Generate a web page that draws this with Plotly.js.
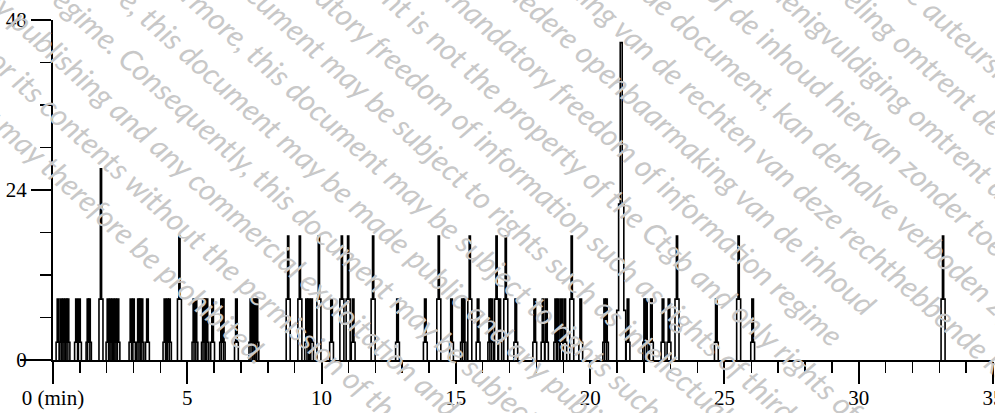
<!DOCTYPE html>
<html><head><meta charset="utf-8">
<script src="https://cdn.plot.ly/plotly-3.0.1.min.js"></script>
<style>html,body{margin:0;padding:0;background:#fff;}#chart{width:995px;height:413px;}</style>
</head><body><div id="chart"></div>
<script>
// Peak retention times (min) and heights
const peakTimes = [0.186,0.298,0.391,0.484,0.558,0.875,0.986,1.303,1.358,1.786,
  2.047,2.140,2.233,2.326,2.419,2.903,2.996,3.182,3.238,3.312,3.517,4.168,4.261,4.336,4.708,
  5.248,5.322,5.601,5.657,5.731,5.943,6.278,6.338,6.829,7.369,7.443,7.518,7.592,8.757,
  9.192,9.442,9.527,9.628,9.900,10.372,10.756,10.990,11.176,11.920,12.828,13.863,14.365,
  14.838,15.247,15.307,15.519,15.828,16.263,16.338,16.516,16.635,16.859,17.231,17.938,
  18.247,18.373,18.720,18.813,18.932,19.055,19.315,19.650,20.543,20.607,21.157,21.410,
  22.032,22.095,22.281,22.713,22.936,23.234,24.700,25.530,26.051,33.141];
const peakHeights = [8.6,8.6,8.6,8.6,8.6,8.6,8.6,8.6,8.6,27.0,
  8.6,8.6,8.6,8.6,8.6,8.6,8.6,8.6,8.6,8.6,8.6,8.6,8.6,8.6,17.5,
  8.6,8.6,8.6,8.6,8.6,8.6,8.6,8.6,8.6,8.6,8.6,8.6,8.6,17.5,
  17.5,8.6,8.6,8.6,17.5,8.6,17.5,17.5,8.6,17.5,8.6,8.6,17.5,
  8.6,8.6,8.6,17.5,8.6,8.6,8.6,17.5,8.6,17.5,8.6,8.6,
  8.6,8.6,8.6,8.6,8.6,8.6,17.5,8.6,8.6,8.6,44.8,8.6,
  8.6,8.6,8.6,8.6,8.6,17.5,8.6,17.5,8.6,17.5];
const xTickVals = [0,5,10,15,20,25,30,35];
const xTickText = ['0 (min)','5','10','15','20','25','30','35'];
const yTickVals = [0,24,48];
const yTickText = ['0','24','48'];

// Watermark of the scanned source page: one diagonal line of text each,
// the x where the line meets the top edge, and either a word in it with its place (px)
// or the place (px) where the line ends
const wmLineX0 = [-132,-66,0,66,132,198,264,330,396,462,528,594,660,726,792,858,924,990];
const wmTexts = [
  'without the permission of the owner may therefore be prohibited.',
  'exploitation of this document or its contents without the permission of the rightful owner may therefore',
  'Consequently, any publishing and any commercial exploitation and use of this document or its contents',
  'of information regime. Consequently, this document may be subject to rights of third parties such as',
  'the Ctgb. Furthermore, this document may be made public and any publication of its contents',
  'Furthermore, this document may be subject to rights such as intellectual property and copyrights',
  'the mandatory regime. This document may be subject to rights such as intellectual property',
  'under the mandatory freedom of information such as rights of third parties and the owner',
  'This document is not the property of the Ctgb and only rights of information required',
  'is made available under the mandatory freedom of information regime',
  'openbaarheid van bestuur. Iedere openbaarmaking van de inhoud',
  'toestemming van de rechten van deze rechthebbende kan derhalve verboden zijn',
  'zonder van de document, kan derhalve verboden zijn zonder toestemming van de',
  'vermenigvuldiging of de inhoud hiervan zonder toestemming van de rechthebbende',
  'Iedere vermenigvuldiging omtrent de inhoud van dit document zonder toestemming',
  'mededeling omtrent de inhoud hiervan, zonder toestemming van de rechthebbende',
  'De auteursrechten van derden en de rechten van deze rechthebbende',
  'De rechten van derden op dit document'
];
const wmKeys = ['therefore','without','publishing','gime.','','ermore,','subject to','freedom','Ctgb','',
  '','rechten','document,','de inhoud','enigvuldiging','eling','auteur',''];
const wmKeyX = [90,178,62,100,null,205,441,405,655,null,null,723,727,788,845,863,957,null];
const wmKeyY = [200,198,58,18,null,20,168,85,263,null,null,112,55,42,55,22,33,null];
const wmEndX = [null,null,null,null,null,null,null,null,null,840,880,null,null,null,null,null,null,null];
const wmEndY = [null,null,null,null,null,null,null,null,null,340,300,null,null,null,null,null,null,null];

// Peak outline (stepped spike) built around each peak
const minPerPx = 35/940;
const xs = [], ys = [];
peakTimes.forEach((t,i) => {
  const h = peakHeights[i];
  let levels;
  if (h > 40) levels = [[7,4.5],[22,2.6],[h,1.0]];
  else if (h > 12) levels = [[8.6,2.0],[h,0.6]];
  else levels = [[2.5,1.9],[h,0.8]];
  const up = [], down = [];
  let prev = 0;
  levels.forEach(([lh,hw]) => {
    const w = hw*minPerPx;
    up.push([t-w,prev],[t-w,lh]);
    down.unshift([t+w,lh],[t+w,prev]);
    prev = lh;
  });
  up.concat(down).forEach(p => { xs.push(p[0]); ys.push(p[1]); });
  xs.push(null); ys.push(null);
});

// Watermark annotations: rotated text placed along its line
const WM_ANGLE = 42, WM_SIZE = 30;
const ctx = document.createElement('canvas').getContext('2d');
ctx.font = 'italic ' + WM_SIZE + 'px Lato';
const ca = Math.cos(WM_ANGLE*Math.PI/180), sa = Math.sin(WM_ANGLE*Math.PI/180);
const L = 53, T = 20, PW = 940, PH = 340;
const annotations = wmTexts.map((txt,i) => {
  const x0 = wmLineX0[i];
  const W = ctx.measureText(txt).width;
  let s;   // distance along the line of the text centre
  if (wmKeys[i]) {
    const k = txt.indexOf(wmKeys[i]);
    const before = ctx.measureText(txt.slice(0,k)).width;
    const kw = ctx.measureText(wmKeys[i]).width;
    const sKey = (wmKeyX[i]-x0)*ca + wmKeyY[i]*sa;
    s = sKey - (before + kw/2 - W/2);
  } else if (wmEndX[i] !== null) {
    const sEnd = (wmEndX[i]-x0)*ca + wmEndY[i]*sa;
    s = sEnd - W/2;
  } else {
    s = 206/sa;
  }
  const cx = x0 + s*ca, cy = s*sa;
  return {xref:'paper', yref:'paper', x:(cx-L)/PW, y:(T+PH-cy)/PH, xanchor:'center', yanchor:'middle',
    text:txt, showarrow:false, textangle:WM_ANGLE,
    font:{family:'Lato, Open Sans, sans-serif', size:WM_SIZE, color:'#c8c8c8', style:'italic'}};
});

const font = {family:'Liberation Serif, Times New Roman, serif', color:'#000'};
const data = [{type:'scatter', mode:'lines', x:xs, y:ys, line:{color:'#000', width:1.6},
  hoverinfo:'skip', connectgaps:false}];
const layout = {
  width:995, height:413, margin:{l:53, r:2, t:20, b:53},
  paper_bgcolor:'#fff', plot_bgcolor:'#fff', showlegend:false,
  xaxis:{range:[0,35], tickmode:'array', tickvals:xTickVals, ticktext:xTickText,
    ticks:'outside', ticklen:22, tickwidth:2, tickcolor:'#000', ticklabeloverflow:'allow',
    ticklabelstandoff:-4,
    showline:true, linewidth:2, linecolor:'#000', showgrid:false, zeroline:false,
    tickfont:Object.assign({size:21}, font),
    minor:{tickmode:'linear', tick0:0, dtick:1, ticks:'outside', ticklen:11, tickwidth:1.5, tickcolor:'#000', showgrid:false}},
  yaxis:{range:[0,48], tickmode:'array', tickvals:yTickVals, ticktext:yTickText,
    ticks:'outside', ticklen:20, tickwidth:2, tickcolor:'#000',
    showline:true, linewidth:2, linecolor:'#000', showgrid:false, zeroline:false,
    tickfont:Object.assign({size:21}, font),
    minor:{tickmode:'linear', tick0:0, dtick:6, ticks:'outside', ticklen:11, tickwidth:1.5, tickcolor:'#000', showgrid:false}},
  shapes:[{type:'line', xref:'paper', yref:'paper', x0:-33/940, x1:0, y0:0, y1:0, line:{color:'#000', width:2}}],
  annotations: annotations
};
Plotly.newPlot('chart', data, layout, {staticPlot:true, displayModeBar:false});
</script></body></html>
